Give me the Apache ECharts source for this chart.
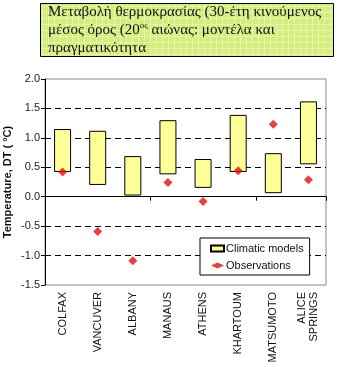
<!DOCTYPE html>
<html>
<head>
<meta charset="utf-8">
<script src="https://cdn.jsdelivr.net/npm/echarts@6/dist/echarts.min.js"></script>
<style>
  html, body { margin: 0; padding: 0; background: #fff; }
</style>
</head>
<body>
<div id="chart" style="width:351px;height:367px"></div>
<script>
// stations on the x axis
const cities = ['COLFAX', 'VANCUVER', 'ALBANY', 'MANAUS', 'ATHENS', 'KHARTOUM', 'MATSUMOTO', 'ALICE\nSPRINGS'];
// model range (bottom / top of each box), DT in °C
const modelLow = [0.42, 0.20, 0.02, 0.38, 0.15, 0.42, 0.06, 0.55];
const modelHigh = [1.15, 1.12, 0.69, 1.30, 0.64, 1.39, 0.74, 1.62];
// observed change
const observed = [0.42, -0.59, -1.09, 0.24, -0.08, 0.44, 1.23, 0.29];

// greenish grid pattern for the title box
const pat = document.createElement('canvas');
pat.width = 6; pat.height = 6;
const pc = pat.getContext('2d');
pc.fillStyle = '#d3ec7c';
pc.fillRect(0, 0, 6, 6);
pc.fillStyle = '#e6f5ad';
pc.fillRect(0, 0, 6, 1);
pc.fillRect(0, 0, 1, 6);

const chart = echarts.init(document.getElementById('chart'), null, {renderer: 'canvas'});
chart.setOption({
  animation: false,
  textStyle: {fontFamily: 'Liberation Sans, Arial, sans-serif'},
  grid: {
    left: 45, right: 25, top: 79, bottom: 82,
    show: true,
    borderColor: '#888',
    borderWidth: 1
  },
  graphic: [
    {
      type: 'rect',
      shape: {x: 40.5, y: 3.5, width: 293, height: 53},
      style: {fill: {image: pat, repeat: 'repeat'}, stroke: '#000', lineWidth: 1}
    },
    {
      type: 'text',
      left: 48, top: 5,
      style: {
        text: '{t|Μεταβολή θερμοκρασίας (30-έτη κινούμενος}\n{t|μέσος όρος (20}{s|ος}{t| αιώνας: μοντέλα και}\n{t|πραγματικότητα}',
        rich: {
          t: {fontFamily: 'Liberation Serif, serif', fontSize: 15, lineHeight: 18, fill: '#111'},
          s: {fontFamily: 'Liberation Serif, serif', fontSize: 9, lineHeight: 18, verticalAlign: 'top', fill: '#111'}
        }
      }
    },
    {
      type: 'text',
      x: 8, y: 182,
      rotation: Math.PI / 2,
      style: {
        text: 'Temperature, DT ( °C)',
        fontFamily: 'Liberation Sans, Arial, sans-serif',
        fontWeight: 'bold',
        fontSize: 11,
        fill: '#111',
        align: 'center',
        verticalAlign: 'middle'
      }
    }
  ],
  legend: {
    orient: 'vertical',
    left: 200, top: 238,
    padding: [5, 6, 4, 10],
    itemGap: 6,
    itemWidth: 13,
    itemHeight: 6,
    backgroundColor: '#fff',
    borderColor: '#000',
    borderWidth: 1,
    textStyle: {fontSize: 11, color: '#111', padding: [0, 0, 0, -3]},
    data: [
      {name: 'Climatic models', icon: 'rect'},
      {name: 'Observations', icon: 'diamond'}
    ]
  },
  xAxis: [
    {
      type: 'category',
      data: cities,
      position: 'bottom',
      axisLine: {show: false, onZero: false},
      axisTick: {show: false},
      axisLabel: {
        rotate: 90,
        fontSize: 11,
        color: '#111',
        margin: 7,
        lineHeight: 12
      }
    },
    {
      type: 'category',
      data: cities,
      position: 'bottom',
      axisLine: {show: true, onZero: true, lineStyle: {color: '#000', width: 1}},
      axisTick: {show: true, length: 4, lineStyle: {color: '#000'}},
      axisLabel: {show: false}
    }
  ],
  yAxis: {
    type: 'value',
    min: -1.5,
    max: 2.0,
    interval: 0.5,
    axisLine: {show: true, lineStyle: {color: '#000'}},
    axisTick: {show: true, length: 4, lineStyle: {color: '#000'}},
    axisLabel: {
      fontSize: 11,
      color: '#222',
      margin: 5,
      formatter: v => v.toFixed(1)
    },
    splitLine: {
      show: true,
      showMinLine: false,
      showMaxLine: false,
      lineStyle: {color: '#000', type: [6, 4], width: 1}
    }
  },
  series: [
    {
      name: 'base',
      type: 'bar',
      stack: 'models',
      barWidth: 17,
      silent: true,
      itemStyle: {color: 'transparent'},
      data: modelLow
    },
    {
      name: 'Climatic models',
      type: 'bar',
      stack: 'models',
      barWidth: 17,
      itemStyle: {color: '#ffff99', borderColor: '#000', borderWidth: 1},
      data: modelHigh.map((h, i) => +(h - modelLow[i]).toFixed(2))
    },
    {
      name: 'Observations',
      type: 'scatter',
      symbol: 'diamond',
      symbolSize: 9,
      z: 5,
      itemStyle: {color: '#e01010'},
      data: observed
    }
  ]
});
</script>
</body>
</html>
